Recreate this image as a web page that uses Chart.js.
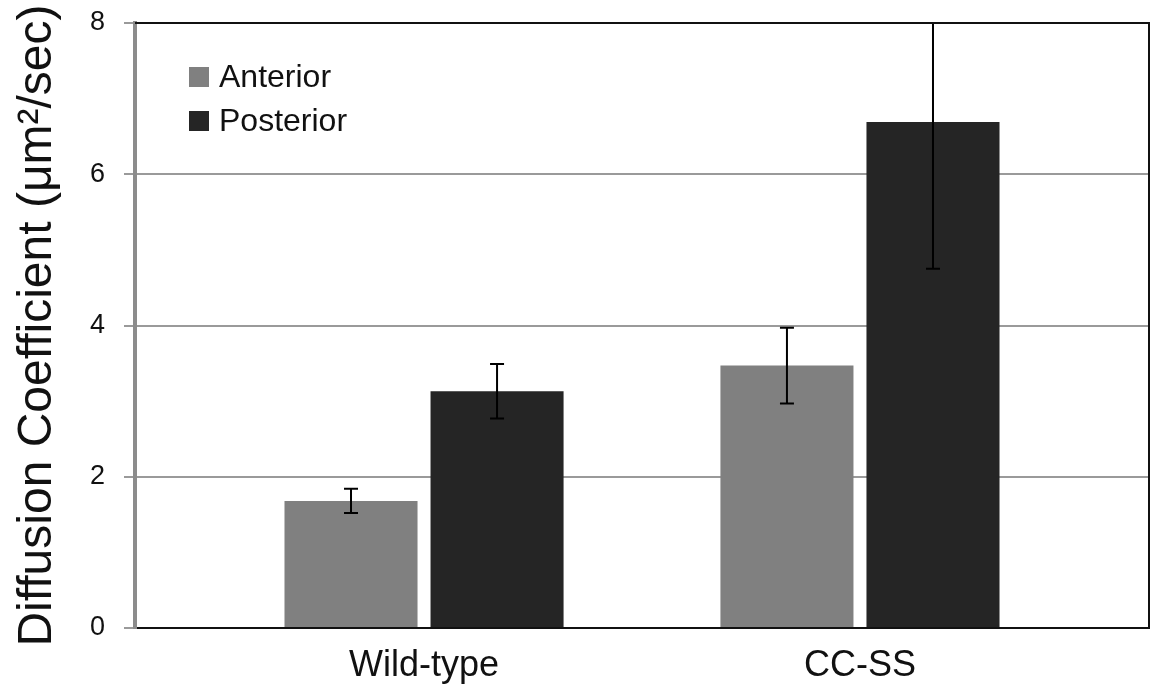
<!DOCTYPE html>
<html>
<head>
<meta charset="utf-8">
<script src="https://cdn.jsdelivr.net/npm/chart.js@4.4.1/dist/chart.umd.min.js"></script>
<style>
html,body{margin:0;padding:0;background:#fff;}
#wrap{width:1156px;height:686px;position:relative;}
</style>
</head>
<body>
<div id="wrap"><canvas id="c" width="1156" height="686"></canvas></div>
<script>
// ---- data ----
const categories = ['Wild-type', 'CC-SS'];
const seriesNames = ['Anterior', 'Posterior'];
const anteriorValues = [1.68, 3.47];
const posteriorValues = [3.13, 6.69];
const anteriorErrors = [0.16, 0.50];
const posteriorErrors = [0.36, 1.94];
const yTicks = [0, 2, 4, 6, 8];
const yTitle = 'Diffusion Coefficient (\u03bcm\u00b2/sec)';

const colors = ['#808080', '#252525'];
const FONT = '"Liberation Sans", Arial, Helvetica, sans-serif';

function toPoints(vals){ return vals.map((v,i)=>({x:i, y:v})); }

const errorBars = {
  id: 'errorBars',
  afterDatasetsDraw(chart){
    const ctx = chart.ctx, ys = chart.scales.y, a = chart.chartArea;
    ctx.save();
    ctx.beginPath();
    ctx.rect(a.left, a.top - 1, a.right - a.left, a.bottom - a.top + 1);
    ctx.clip();
    ctx.strokeStyle = '#000';
    ctx.lineWidth = 2;
    chart.data.datasets.forEach((ds, di) => {
      const meta = chart.getDatasetMeta(di);
      meta.data.forEach((bar, i) => {
        const v = ds.data[i].y, e = ds.errors[i];
        const x = bar.x;
        const yt = ys.getPixelForValue(v + e), yb = ys.getPixelForValue(v - e);
        const cw = 7;
        ctx.beginPath();
        ctx.moveTo(x, yt); ctx.lineTo(x, yb);
        ctx.moveTo(x - cw, yt); ctx.lineTo(x + cw, yt);
        ctx.moveTo(x - cw, yb); ctx.lineTo(x + cw, yb);
        ctx.stroke();
      });
    });
    ctx.restore();
  }
};

const frame = {
  id: 'frame',
  afterDraw(chart){
    const ctx = chart.ctx, a = chart.chartArea;
    ctx.save();
    ctx.strokeStyle = '#111';
    ctx.lineWidth = 2;
    ctx.beginPath();
    ctx.moveTo(a.left, a.top); ctx.lineTo(a.right, a.top); ctx.lineTo(a.right, a.bottom);
    ctx.stroke();
    ctx.restore();
  }
};

const innerLegend = {
  id: 'innerLegend',
  afterDraw(chart){
    const ctx = chart.ctx, a = chart.chartArea;
    ctx.save();
    ctx.font = '32px ' + FONT;
    ctx.textBaseline = 'middle';
    ctx.textAlign = 'left';
    chart.data.datasets.forEach((ds, i) => {
      const x = a.left + 54, y = a.top + 54 + i * 44;
      ctx.fillStyle = ds.backgroundColor;
      ctx.fillRect(x, y - 10, 20, 20);
      ctx.fillStyle = '#111';
      ctx.fillText(ds.label, x + 30, y + 1);
    });
    ctx.restore();
  }
};

new Chart(document.getElementById('c'), {
  type: 'bar',
  data: {
    datasets: [
      { label: seriesNames[0], data: toPoints(anteriorValues), errors: anteriorErrors, backgroundColor: colors[0] },
      { label: seriesNames[1], data: toPoints(posteriorValues), errors: posteriorErrors, backgroundColor: colors[1] }
    ]
  },
  options: {
    responsive: false,
    animation: false,
    devicePixelRatio: 1,
    categoryPercentage: 0.67,
    barPercentage: 0.911,
    layout: { padding: { top: 23, right: 7, left: 0, bottom: 0 } },
    plugins: { legend: { display: false }, tooltip: { enabled: false } },
    scales: {
      x: {
        type: 'linear',
        offset: false,
        min: -0.663,
        max: 1.663,
        afterBuildTicks(scale){ scale.ticks = categories.map((c, i) => ({ value: i })); },
        afterFit(scale){ scale.height = 58; scale.paddingLeft = 0; scale.paddingRight = 0; },
        grid: { display: false, drawTicks: false, offset: false },
        border: { display: true, color: '#111', width: 2 },
        ticks: {
          autoSkip: false,
          maxRotation: 0,
          padding: 16,
          color: '#111',
          font: { family: FONT, size: 36 },
          callback: (v) => categories[v] ?? ''
        }
      },
      y: {
        min: 0,
        max: 8,
        afterBuildTicks(scale){ scale.ticks = yTicks.map(v => ({ value: v })); },
        afterFit(scale){ scale.width = 135; scale.paddingTop = 0; scale.paddingBottom = 0; },
        grid: {
          color: (c) => (c.tick && c.tick.value === 8) ? '#111' : '#9a9a9a',
          lineWidth: 2,
          tickLength: 11,
          tickColor: '#9a9a9a'
        },
        border: { display: true, color: '#8c8c8c', width: 4 },
        ticks: {
          padding: 19,
          color: '#111',
          font: { family: FONT, size: 27 }
        },
        title: {
          display: true,
          text: yTitle,
          color: '#111',
          padding: { top: 9, bottom: 0 },
          font: { family: FONT, size: 48 }
        }
      }
    }
  },
  plugins: [errorBars, frame, innerLegend]
});
</script>
</body>
</html>
